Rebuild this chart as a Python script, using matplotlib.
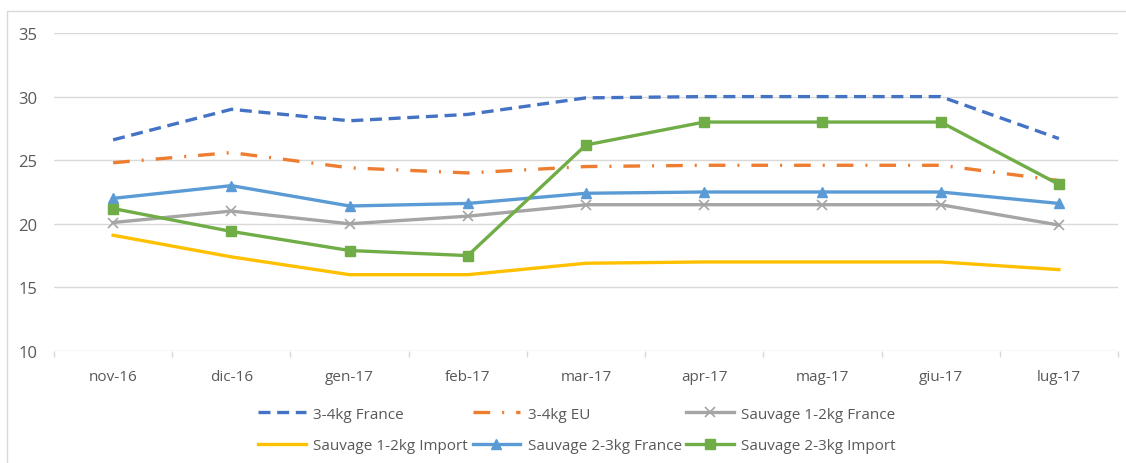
import matplotlib.pyplot as plt
from matplotlib.patches import Rectangle

months = ['nov-16', 'dic-16', 'gen-17', 'feb-17', 'mar-17', 'apr-17', 'mag-17', 'giu-17', 'lug-17']
france_34 = [26.6, 29.0, 28.1, 28.6, 29.9, 30.0, 30.0, 30.0, 26.7]
eu_34 = [24.8, 25.6, 24.4, 24.0, 24.5, 24.6, 24.6, 24.6, 23.4]
sauv12_france = [20.1, 21.0, 20.0, 20.6, 21.5, 21.5, 21.5, 21.5, 19.9]
sauv12_import = [19.1, 17.4, 16.0, 16.0, 16.9, 17.0, 17.0, 17.0, 16.4]
sauv23_france = [22.0, 23.0, 21.4, 21.6, 22.4, 22.5, 22.5, 22.5, 21.6]
sauv23_import = [21.2, 19.4, 17.9, 17.5, 26.2, 28.0, 28.0, 28.0, 23.1]
y_ticks = [10, 15, 20, 25, 30, 35]

plt.rcParams['font.family'] = ['Open Sans', 'DejaVu Sans']
txt = '#595959'
grid = '#d9d9d9'

fig = plt.figure(figsize=(11.26, 4.64), dpi=100)
# outer chart border (only top and left show in the crop)
fig.patches.append(Rectangle((7 / 1126, -0.05), 1.1, 0.974 + 0.05, transform=fig.transFigure,
                             fill=False, edgecolor=grid, linewidth=1))
ax = fig.add_axes([54 / 1126, 112 / 464, 1064 / 1126, 318 / 464])

x = list(range(len(months)))
lw = 2.4
h1, = ax.plot(x, france_34, color='#4472c4', linewidth=lw, dashes=(3.6, 2.0), label='3-4kg France')
h2, = ax.plot(x, eu_34, color='#ed7d31', linewidth=lw, dashes=(5.0, 3.6, 0.6, 3.6), label='3-4kg EU')
h3, = ax.plot(x, sauv12_france, color='#a5a5a5', linewidth=lw, marker='x', markersize=7,
              markeredgewidth=1.2, label='Sauvage 1-2kg France')
h4, = ax.plot(x, sauv12_import, color='#ffc000', linewidth=lw, label='Sauvage 1-2kg Import')
h5, = ax.plot(x, sauv23_france, color='#5b9bd5', linewidth=lw, marker='^', markersize=7,
              label='Sauvage 2-3kg France')
h6, = ax.plot(x, sauv23_import, color='#70ad47', linewidth=lw, marker='s', markersize=7,
              label='Sauvage 2-3kg Import')

ax.set_xlim(-0.5, len(months) - 0.5)
ax.set_ylim(10, 35)
ax.set_yticks(y_ticks)
ax.set_xticks(x)
ax.set_xticklabels(months)
ax.set_xticks([i - 0.5 for i in range(len(months) + 1)], minor=True)
ax.grid(axis='y', color=grid, linewidth=1)
ax.set_axisbelow(True)
for s in ax.spines.values():
    s.set_visible(False)
ax.tick_params(which='major', length=0, labelsize=11, colors=txt)
ax.tick_params(axis='x', which='major', pad=13)
ax.tick_params(axis='y', pad=12, labelsize=12)
ax.tick_params(axis='x', which='minor', length=4, color=grid, width=1)

handles = [h1, h4, h2, h5, h3, h6]
leg = fig.legend(handles, [h.get_label() for h in handles], ncol=3, loc='center',
                 bbox_to_anchor=(577 / 1126, 0.071), frameon=False, fontsize=11,
                 handlelength=3.1, handletextpad=0.5, columnspacing=0.3, labelspacing=1.1)
for t in leg.get_texts():
    t.set_color(txt)

fig.savefig('out.png', dpi=100)
